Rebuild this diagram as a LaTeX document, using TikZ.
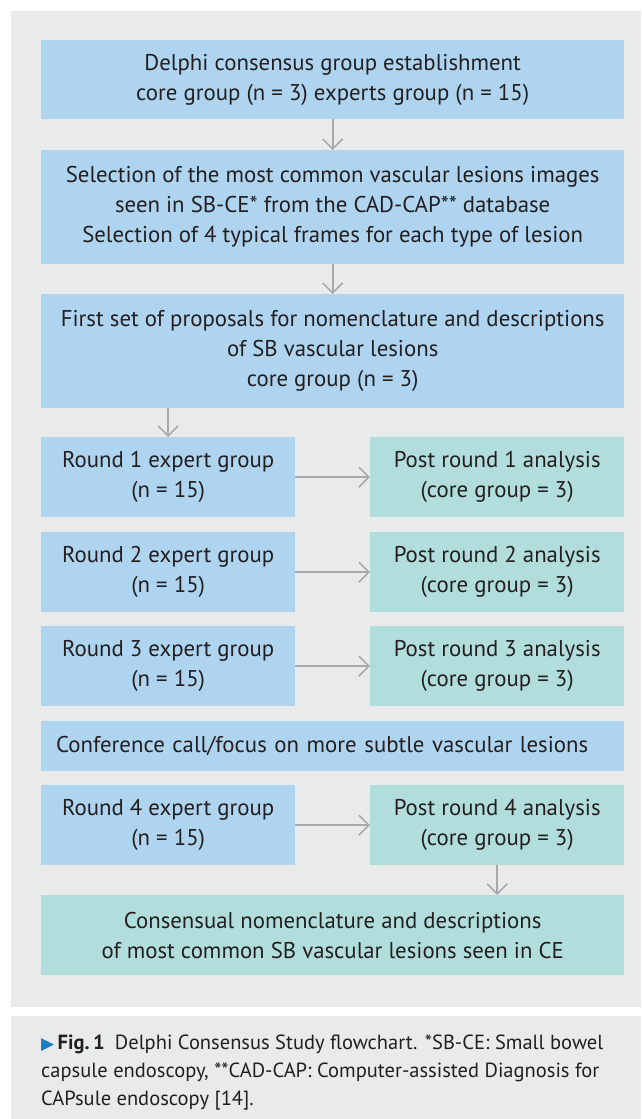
\documentclass[tikz,border=0pt]{standalone}
\usepackage{fontspec}
\setmainfont{PT Sans}
\newfontfamily\symfont{DejaVu Sans}
\usetikzlibrary{arrows.meta}
\definecolor{panelgray}{HTML}{E9EBEB}
\definecolor{boxblue}{HTML}{AED4F0}
\definecolor{boxteal}{HTML}{B1DEDC}
\definecolor{arrowgray}{HTML}{A7A9AC}
\definecolor{txt}{HTML}{231F20}
\definecolor{figblue}{HTML}{1A7DC0}
\tikzset{
  box/.style={anchor=north west, inner sep=0pt, align=center, text=txt,
    font=\fontsize{22.8}{30}\selectfont},
  bluebox/.style={box, fill=boxblue},
  tealbox/.style={box, fill=boxteal},
  wide/.style={minimum width=583pt},
  half/.style={minimum width=254pt},
  conn/.style={draw=arrowgray, line width=1.6pt, -{Straight Barb[length=10pt,width=20pt]}},
}
\begin{document}
\begin{tikzpicture}[x=1pt,y=-1pt]
\useasboundingbox (0,0) rectangle (641,1119);
\fill[panelgray] (11,11) rectangle (641,1007);
\fill[panelgray] (11,1016) rectangle (641,1119);

\node[bluebox, wide, minimum height=79pt] (b1) at (41,40)
  {Delphi consensus group establishment\\core group (n = 3) experts group (n = 15)};
\node[bluebox, wide, minimum height=114pt] (b2) at (41,150)
  {Selection of the most common vascular lesions images\\seen in SB-CE* from the CAD-CAP** database\\Selection of 4 typical frames for each type of lesion};
\node[bluebox, wide, minimum height=114pt] (b3) at (41,294)
  {First set of proposals for nomenclature and descriptions\\of SB vascular lesions\\core group (n = 3)};

\node[bluebox, half, minimum height=80pt] (r1) at (41,437) {Round 1 expert group\\(n = 15)};
\node[tealbox, half, minimum height=80pt] (p1) at (370,437) {Post round 1 analysis\\(core group = 3)};
\node[bluebox, half, minimum height=80pt] (r2) at (41,532) {Round 2 expert group\\(n = 15)};
\node[tealbox, half, minimum height=80pt] (p2) at (370,532) {Post round 2 analysis\\(core group = 3)};
\node[bluebox, half, minimum height=80pt] (r3) at (41,626) {Round 3 expert group\\(n = 15)};
\node[tealbox, half, minimum height=80pt] (p3) at (370,626) {Post round 3 analysis\\(core group = 3)};

\node[bluebox, align=left, text width=553pt, inner xsep=15pt, minimum height=50pt] (cc) at (41,721)
  {Conference call/focus on more subtle vascular lesions};

\node[bluebox, half, minimum height=80pt] (r4) at (41,785) {Round 4 expert group\\(n = 15)};
\node[tealbox, half, minimum height=80pt] (p4) at (370,785) {Post round 4 analysis\\(core group = 3)};

\node[tealbox, wide, minimum height=80pt] (fin) at (41,895)
  {Consensual nomenclature and descriptions\\of most common SB vascular lesions seen in CE};

\draw[conn] (b1.south) -- (b2.north);
\draw[conn] (b2.south) -- (b3.north);
\draw[conn] (b3.south -| r1.north) -- (r1.north);
\draw[conn] (r1.east) -- (p1.west);
\draw[conn] (r2.east) -- (p2.west);
\draw[conn] (r3.east) -- (p3.west);
\draw[conn] (r4.east) -- (p4.west);
\draw[conn] (p4.south) -- (fin.north -| p4.south);

\node[anchor=north west, inner sep=0pt, align=left, text=txt,
  font=\fontsize{20.5}{26.5}\selectfont] (cap) at (41,1035)
  {{\color{figblue}\symfont\fontsize{17}{26.5}\selectfont ▶}\,\textbf{Fig.\,1}\enspace Delphi Consensus Study flowchart. *SB-CE: Small bowel\\[1.5pt]
   capsule endoscopy, **CAD-CAP: Computer-assisted Diagnosis for\\[1.5pt]
   CAPsule endoscopy [14].};
\end{tikzpicture}
\end{document}
